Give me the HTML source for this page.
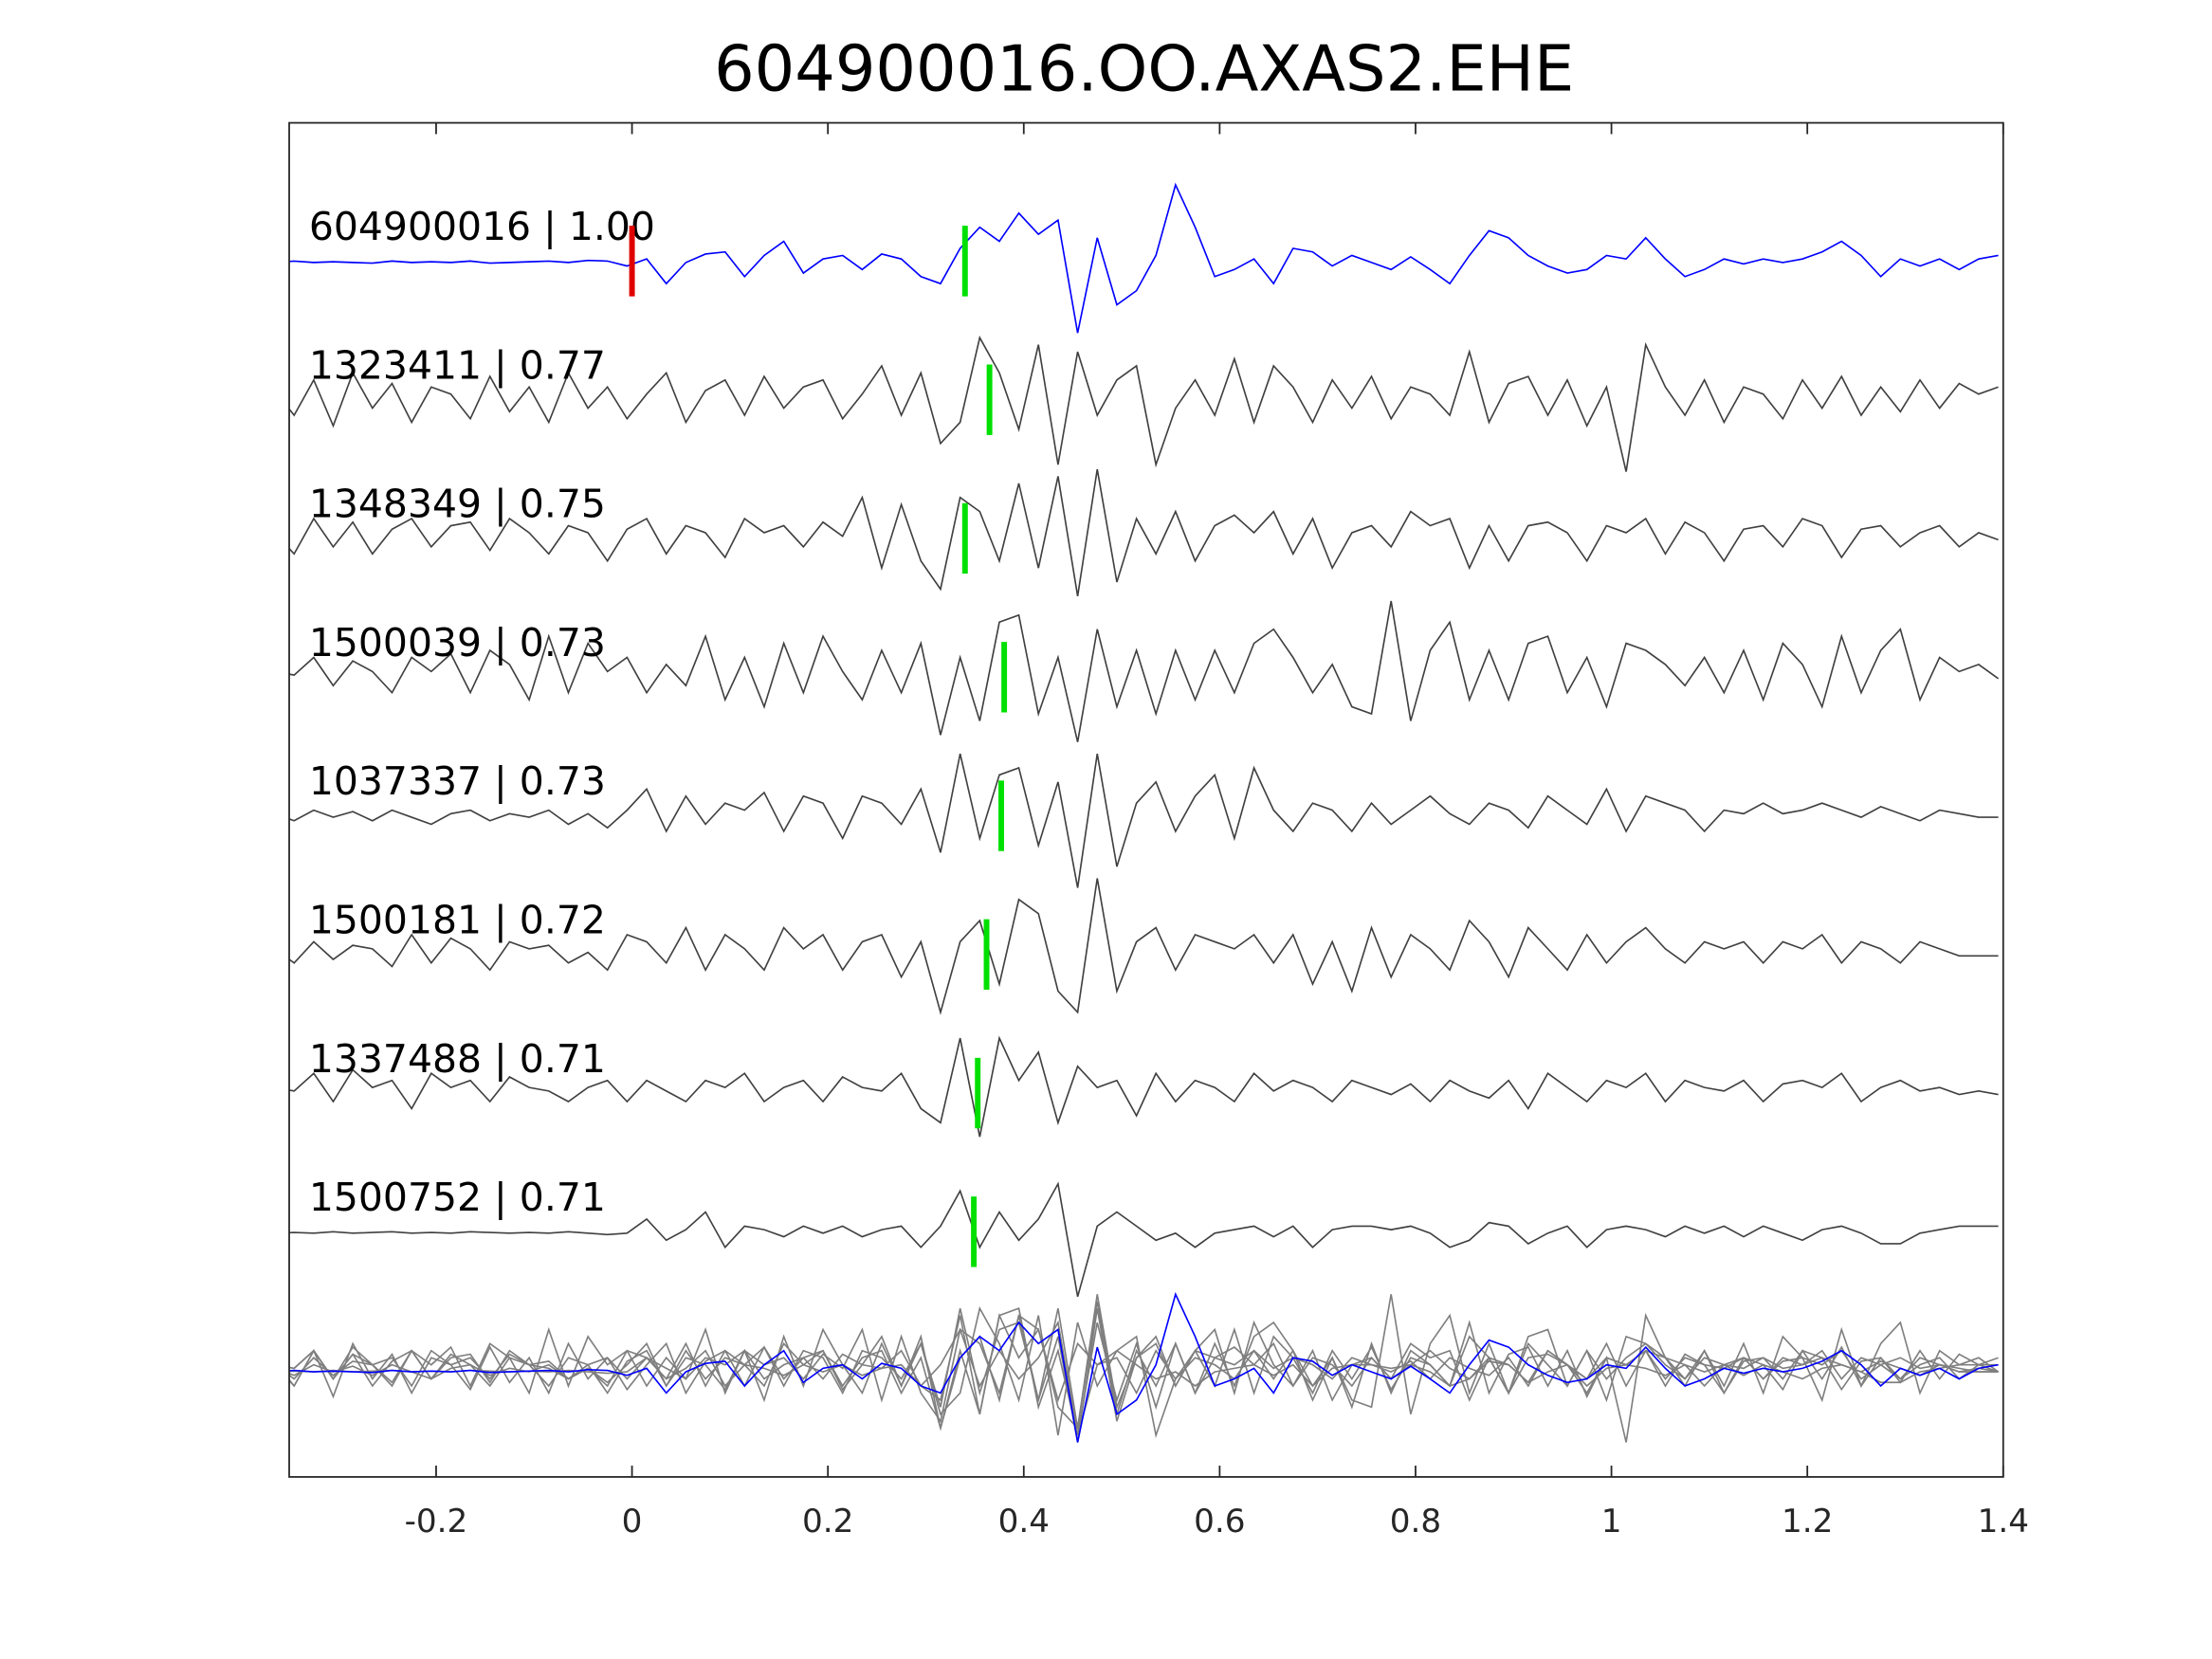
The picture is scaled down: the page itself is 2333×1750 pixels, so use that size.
<!DOCTYPE html>
<html><head><meta charset="utf-8"><style>html,body{margin:0;padding:0;background:#fff}svg{display:block}</style></head>
<body>
<svg id="chart" width="2333" height="1750" viewBox="0 0 1568 1176" xmlns="http://www.w3.org/2000/svg" font-family="'DejaVu Sans','Liberation Sans',sans-serif">
<defs><clipPath id="clip"><rect x="205" y="87" width="1215" height="960"/></clipPath></defs>
<rect width="1568" height="1176" fill="#fff"/>
<text x="811" y="64" font-size="45" text-anchor="middle" fill="#000">604900016.OO.AXAS2.EHE</text>
<g id="ticks"></g>
<g clip-path="url(#clip)"><g id="overlay"></g><g id="traces"></g></g>
<g id="labels"></g>
<g id="picks"></g>
<rect x="205" y="87" width="1215" height="960" fill="none" stroke="#262626" stroke-width="1.2"/>
</svg>
<script>
const tStart = -0.385, tStep = 0.02;
const xTicks = [-0.2, 0, 0.2, 0.4, 0.6, 0.8, 1, 1.2, 1.4];
const xTickLabels = ["-0.2","0","0.2","0.4","0.6","0.8","1","1.2","1.4"];
const traceLabels = ["604900016 | 1.00","1323411 | 0.77","1348349 | 0.75","1500039 | 0.73","1037337 | 0.73","1500181 | 0.72","1337488 | 0.71","1500752 | 0.71"];
const pickTimes = [0.34, 0.365, 0.34, 0.38, 0.377, 0.362, 0.353, 0.349];
const refPick = 0;
const trace0 = [0,0,0.02,0,0.01,0,-0.01,0.02,0,0.01,0,0.02,-0.01,0,0.01,0.02,0,0.03,
0.02,-0.05,0.05,-0.3,0,0.12,0.15,-0.2,0.1,0.3,-0.15,0.05,0.1,-0.1,0.12,0.05,-0.2,
-0.3,0.2,0.5,0.3,0.7,0.4,0.6,-1.0,0.35,-0.6,-0.4,0.1,1.1,0.5,-0.2,-0.1,0.05,-0.3,
0.2,0.15,-0.05,0.1,0,-0.1,0.08,-0.1,-0.3,0.1,0.45,0.35,0.1,-0.05,-0.15,-0.1,0.1,0.05,
0.35,0.05,-0.2,-0.1,0.05,-0.02,0.05,0,0.05,0.15,0.3,0.1,-0.2,0.05,-0.05,0.05,-0.1,0.05,0.1];
const trace1 = [0,0.15,-0.2,0.3,-0.35,0.4,-0.1,0.25,-0.3,0.2,0.1,-0.25,0.35,-0.15,0.2,-0.3,0.4,-0.1,
0.2,-0.25,0.1,0.4,-0.3,0.15,0.3,-0.2,0.35,-0.1,0.2,0.3,-0.25,0.1,0.5,-0.2,0.4,
-0.6,-0.3,0.9,0.4,-0.4,0.8,-0.9,0.7,-0.2,0.3,0.5,-0.9,-0.1,0.3,-0.2,0.6,-0.3,0.5,
0.2,-0.3,0.3,-0.1,0.35,-0.25,0.2,0.1,-0.2,0.7,-0.3,0.25,0.35,-0.2,0.3,-0.35,0.2,-1.0,
0.8,0.2,-0.2,0.3,-0.3,0.2,0.1,-0.25,0.3,-0.1,0.35,-0.2,0.2,-0.15,0.3,-0.1,0.25,0.1,0.2];
const trace2 = [0,0.1,-0.2,0.3,-0.1,0.25,-0.2,0.15,0.3,-0.1,0.2,0.25,-0.15,0.3,0.1,-0.2,0.2,0.1,
-0.3,0.15,0.3,-0.2,0.2,0.1,-0.25,0.3,0.1,0.2,-0.1,0.25,0.05,0.6,-0.4,0.5,-0.3,
-0.7,0.6,0.4,-0.3,0.8,-0.4,0.9,-0.8,1.0,-0.6,0.3,-0.2,0.4,-0.3,0.2,0.35,0.1,0.4,
-0.2,0.3,-0.4,0.1,0.2,-0.1,0.4,0.2,0.3,-0.4,0.2,-0.3,0.2,0.25,0.1,-0.3,0.2,0.1,
0.3,-0.2,0.25,0.1,-0.3,0.15,0.2,-0.1,0.3,0.2,-0.25,0.15,0.2,-0.1,0.1,0.2,-0.1,0.1,0];
const trace3 = [0,0.1,0.05,0.3,-0.1,0.25,0.1,-0.2,0.3,0.1,0.35,-0.2,0.4,0.2,-0.3,0.6,-0.2,0.5,
0.1,0.3,-0.2,0.2,-0.1,0.6,-0.3,0.3,-0.4,0.5,-0.2,0.6,0.1,-0.3,0.4,-0.2,0.5,
-0.8,0.3,-0.6,0.8,0.9,-0.5,0.3,-0.9,0.7,-0.4,0.4,-0.5,0.4,-0.3,0.4,-0.2,0.5,0.7,
0.3,-0.2,0.2,-0.4,-0.5,1.1,-0.6,0.4,0.8,-0.3,0.4,-0.3,0.5,0.6,-0.2,0.3,-0.4,0.5,
0.4,0.2,-0.1,0.3,-0.2,0.4,-0.3,0.5,0.2,-0.4,0.6,-0.2,0.4,0.7,-0.3,0.3,0.1,0.2,0];
const trace4 = [0,0.05,-0.05,0.1,0,0.08,-0.05,0.1,0,-0.1,0.05,0.1,-0.05,0.05,0,0.1,-0.1,0.05,
-0.15,0.1,0.4,-0.2,0.3,-0.1,0.2,0.1,0.35,-0.2,0.3,0.2,-0.3,0.3,0.2,-0.1,0.4,
-0.5,0.9,-0.3,0.6,0.7,-0.4,0.5,-1.0,0.9,-0.7,0.2,0.5,-0.2,0.3,0.6,-0.3,0.7,0.1,
-0.2,0.2,0.1,-0.2,0.2,-0.1,0.1,0.3,0.05,-0.1,0.2,0.1,-0.15,0.3,0.1,-0.1,0.4,-0.2,
0.3,0.2,0.1,-0.2,0.1,0.05,0.2,0.05,0.1,0.2,0.1,0,0.15,0.05,-0.05,0.1,0.05,0,0];
const trace5 = [0,0.1,-0.1,0.2,-0.05,0.15,0.1,-0.15,0.3,-0.1,0.25,0.1,-0.2,0.2,0.1,0.15,-0.1,0.05,
-0.2,0.3,0.2,-0.1,0.4,-0.2,0.3,0.1,-0.2,0.4,0.1,0.3,-0.2,0.2,0.3,-0.3,0.2,
-0.8,0.2,0.5,-0.4,0.8,0.6,-0.5,-0.8,1.1,-0.5,0.2,0.4,-0.2,0.3,0.2,0.1,0.3,-0.1,
0.3,-0.4,0.2,-0.5,0.4,-0.3,0.3,0.1,-0.2,0.5,0.2,-0.3,0.4,0.1,-0.2,0.3,-0.1,0.2,
0.4,0.1,-0.1,0.2,0.1,0.2,-0.1,0.2,0.1,0.3,-0.1,0.2,0.1,-0.1,0.2,0.1,0,0,0];
const trace6 = [0,0.1,0.05,0.3,-0.1,0.35,0.1,0.2,-0.2,0.3,0.1,0.2,-0.1,0.25,0.1,0.05,-0.1,0.1,
0.2,-0.1,0.2,0.05,-0.1,0.2,0.1,0.3,-0.1,0.1,0.2,-0.1,0.25,0.1,0.05,0.3,-0.2,
-0.4,0.8,-0.6,0.8,0.2,0.6,-0.4,0.4,0.1,0.2,-0.3,0.3,-0.1,0.2,0.1,-0.1,0.3,0.05,
0.2,0.1,-0.1,0.2,0.1,0,0.15,-0.1,0.2,0.05,-0.05,0.2,-0.2,0.3,0.1,-0.1,0.2,0.1,
0.3,-0.1,0.2,0.1,0.05,0.2,-0.1,0.15,0.2,0.1,0.3,-0.1,0.1,0.2,0.05,0.1,0,0.05,0];
const trace7 = [0,0,0.01,0,0.02,0,0.01,0.02,0,0.01,0,0.02,0.01,0,0.01,0,0.02,0,
-0.02,0,0.2,-0.1,0.05,0.3,-0.2,0.1,0.05,-0.05,0.1,0,0.1,-0.05,0.05,0.1,-0.2,
0.1,0.6,-0.2,0.3,-0.1,0.2,0.7,-0.9,0.1,0.3,0.1,-0.1,0,-0.2,0,0.05,0.1,-0.05,
0.1,-0.2,0.05,0.1,0.1,0.05,0.1,0,-0.2,-0.1,0.15,0.1,-0.15,0,0.1,-0.2,0.05,0.1,
0.05,-0.05,0.1,0,0.1,-0.05,0.1,0,-0.1,0.05,0.1,0,-0.15,-0.15,0,0.05,0.1,0.1,0.1];
const traces = [trace0,trace1,trace2,trace3,trace4,trace5,trace6,trace7];

const X0 = 205, X1 = 1420, tMin = -0.35, tMax = 1.4;
const baselines = [186, 284.3, 382.6, 481, 579.3, 677.6, 775.9, 874.2];
const overlayBase = 972.5, ampPx = 50;
const xs = t => X0 + (t - tMin) / (tMax - tMin) * (X1 - X0);
const ys = (v, base) => base - v * ampPx;
const NS = "http://www.w3.org/2000/svg";
function mk(tag, attrs, parent) { const e = document.createElementNS(NS, tag); for (const k in attrs) e.setAttribute(k, attrs[k]); parent.appendChild(e); return e; }
function pathFor(arr, base) {
  let d = "";
  arr.forEach((v, i) => { const t = tStart + i * tStep; d += (i ? "L" : "M") + xs(t).toFixed(1) + "," + ys(v, base).toFixed(1); });
  return d;
}
const gt = document.getElementById("ticks");
xTicks.forEach((t, i) => {
  const x = xs(t);
  const a = mk("line", {x1:x, x2:x, y1:1047, y2:1039, stroke:"#262626", "stroke-width":1.2}, gt);
  
  
  const b = mk("line", {x1:x, x2:x, y1:87, y2:95, stroke:"#262626", "stroke-width":1.2}, gt);
  
  
  const tx = mk("text", {x:x, y:1086, "font-size":23, "text-anchor":"middle", fill:"#262626"}, gt);
  tx.textContent = xTickLabels[i];
  
  
});
const gtr = document.getElementById("traces");
const gov = document.getElementById("overlay");
const glb = document.getElementById("labels");
traces.forEach((arr, i) => {
  if (i > 0) {
    const o = mk("path", {d:pathFor(arr, overlayBase), fill:"none", stroke:"#7f7f7f", "stroke-width":1.1}, gov);
    
    
  }
});
const ob = mk("path", {d:pathFor(trace0, overlayBase), fill:"none", stroke:"#0000ff", "stroke-width":1.1}, gov);


traces.forEach((arr, i) => {
  const p = mk("path", {d:pathFor(arr, baselines[i]), fill:"none", stroke:i===0?"#0000ff":"#404040", "stroke-width":1.1}, gtr);
  
  
  const l = mk("text", {x:219, y:baselines[i]-16, "font-size":27.5, fill:"#000"}, glb);
  l.textContent = traceLabels[i];
  
  
});
const gp = document.getElementById("picks");
pickTimes.forEach((t, i) => {
  const x = xs(t);
  const g = mk("line", {x1:x, x2:x, y1:baselines[i]-26, y2:baselines[i]+24, stroke:"#00e000", "stroke-width":4}, gp);
  
  
});
const r = mk("line", {x1:xs(refPick), x2:xs(refPick), y1:baselines[0]-26, y2:baselines[0]+24, stroke:"#e00000", "stroke-width":4}, gp);


</script>
</body></html>
